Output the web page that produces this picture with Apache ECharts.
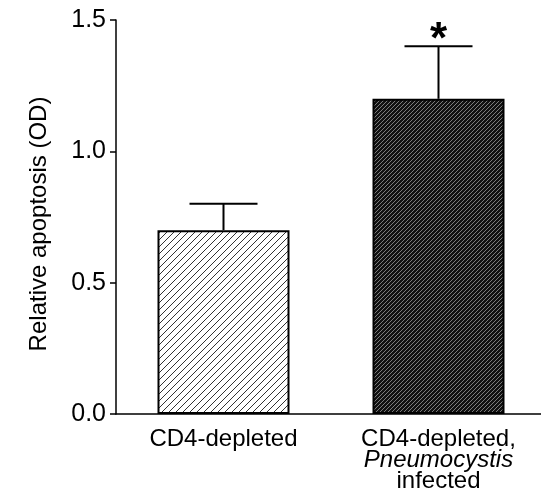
<!DOCTYPE html>
<html>
<head>
<meta charset="utf-8">
<script src="https://cdn.jsdelivr.net/npm/echarts@6/dist/echarts.min.js"></script>
<style>
  html, body { margin: 0; padding: 0; background: #fff; }
  #chart { width: 541px; height: 492px; }
</style>
</head>
<body>
<div id="chart"></div>
<script>
  const categories = ['CD4-depleted', 'CD4-depleted, Pneumocystis infected'];
  const means = [0.7, 1.2];
  const errors = [0.1, 0.2];
  const marks = ['', '*'];
  const yTicks = [0, 0.5, 1.0, 1.5];

  // diagonal hatch tile
  const hatch = (size, bg, fg, lw) => {
    const c = document.createElement('canvas');
    c.width = size; c.height = size;
    const g = c.getContext('2d');
    g.fillStyle = bg; g.fillRect(0, 0, size, size);
    g.strokeStyle = fg; g.lineWidth = lw;
    g.beginPath();
    g.moveTo(-1, size + 1); g.lineTo(size + 1, -1);
    g.moveTo(-1, 1); g.lineTo(1, -1);
    g.moveTo(size - 1, size + 1); g.lineTo(size + 1, size - 1);
    g.stroke();
    return c;
  };
  const fills = [
    {image: hatch(7, '#ffffff', '#333333', 1), repeat: 'repeat'},
    {image: hatch(4, '#111111', '#aaaaaa', 0.7), repeat: 'repeat'}
  ];
  const font = 'Liberation Sans';

  const chart = echarts.init(document.getElementById('chart'));
  chart.setOption({
    animation: false,
    grid: {left: 116, width: 430, top: 20, bottom: 78, containLabel: false, outerBoundsMode: 'none'},
    xAxis: {
      type: 'category',
      data: categories,
      axisLine: {lineStyle: {color: '#000', width: 1.5}},
      axisTick: {show: false},
      axisLabel: {
        margin: 15,
        interval: 0,
        formatter: (v, i) => i === 1
          ? '{a|CD4-depleted,}\n{i|Pneumocystis}\n{a|infected}'
          : '{a|' + v + '}',
        rich: {
          a: {fontFamily: font, fontSize: 24, color: '#000', lineHeight: 21},
          i: {fontFamily: font, fontSize: 24, color: '#000', lineHeight: 21, fontStyle: 'italic'}
        }
      }
    },
    yAxis: {
      type: 'value',
      min: yTicks[0],
      max: yTicks[yTicks.length - 1],
      interval: 0.5,
      name: 'Relative apoptosis (OD)',
      nameLocation: 'middle',
      nameGap: 65,
      nameTextStyle: {fontFamily: font, fontSize: 24, color: '#000', padding: [0, 14, 0, 0]},
      axisLine: {show: true, lineStyle: {color: '#000', width: 1.5}},
      axisTick: {show: true, length: 6, lineStyle: {color: '#000', width: 1.5}},
      axisLabel: {
        margin: 10,
        formatter: v => v.toFixed(1),
        fontFamily: font, fontSize: 25, color: '#000'
      },
      splitLine: {show: false}
    },
    series: [{
      type: 'bar',
      barWidth: 132,
      data: means.map((v, i) => ({value: v, itemStyle: {color: fills[i]}})),
      itemStyle: {borderColor: '#000', borderWidth: 2}
    }, {
      type: 'custom',
      data: means.map((v, i) => [i, v, errors[i], marks[i]]),
      renderItem: (params, api) => {
        const x = api.value(0), m = api.value(1), e = api.value(2);
        const top = api.coord([x, m]), hi = api.coord([x, m + e]);
        const half = 34;
        const style = {stroke: '#000', lineWidth: 2};
        const kids = [
          {type: 'line', shape: {x1: top[0], y1: top[1], x2: hi[0], y2: hi[1]}, style},
          {type: 'line', shape: {x1: hi[0] - half, y1: hi[1], x2: hi[0] + half, y2: hi[1]}, style}
        ];
        const mark = marks[params.dataIndex];
        if (mark) {
          kids.push({
            type: 'text',
            style: {
              text: mark, x: hi[0], y: hi[1] - 5,
              textAlign: 'center', textVerticalAlign: 'middle',
              font: 'bold 44px "Liberation Sans"', fill: '#000'
            }
          });
        }
        return {type: 'group', children: kids};
      },
      z: 5
    }]
  });
</script>
</body>
</html>
